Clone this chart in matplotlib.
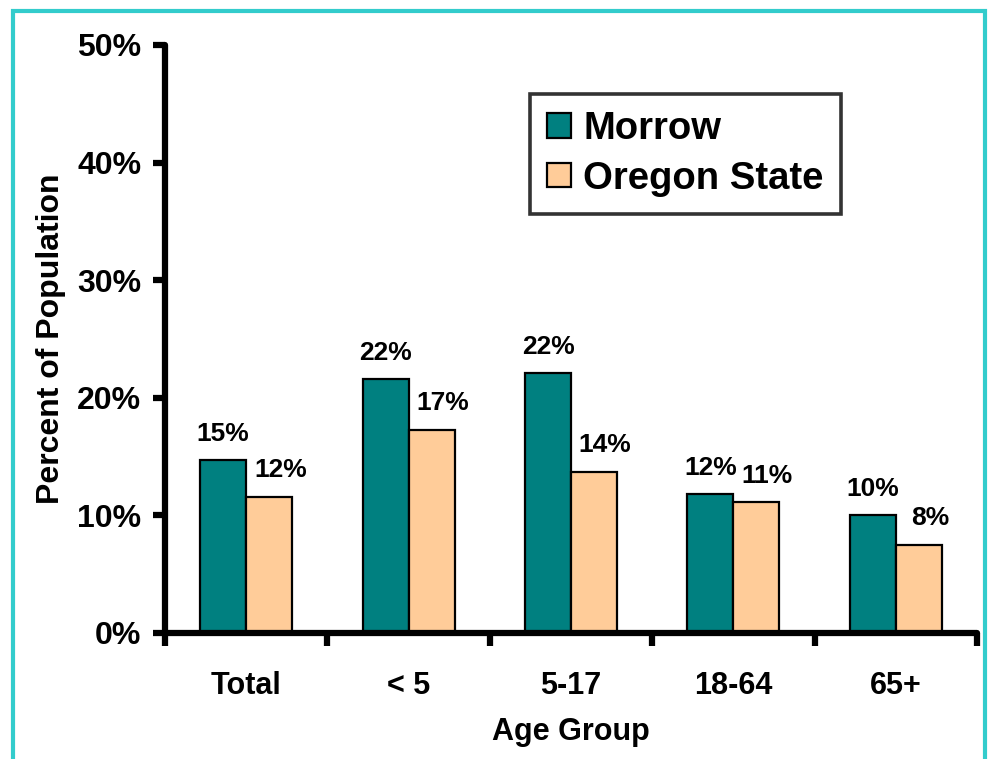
import matplotlib.pyplot as plt
from matplotlib.patches import Rectangle
import numpy as np

plt.rcParams['font.family'] = ['Liberation Sans', 'DejaVu Sans']
plt.rcParams['font.weight'] = 'bold'

categories = ["Total", "< 5", "5-17", "18-64", "65+"]
morrow = [14.7, 21.6, 22.1, 11.8, 10.0]
oregon = [11.6, 17.3, 13.7, 11.1, 7.5]
morrow_labels = ["15%", "22%", "22%", "12%", "10%"]
oregon_labels = ["12%", "17%", "14%", "11%", "8%"]

TEAL = "#008080"
PEACH = "#FFCC99"
BORDER = "#33CCCC"
AXLW = 4.5

fig = plt.figure(figsize=(9.9, 7.59), dpi=100)
ax = fig.add_axes([165 / 990, 1 - 633 / 759, (977 - 165) / 990, (633 - 45) / 759])

x = np.arange(len(categories))
w = 0.283
ax.bar(x - w / 2, morrow, w, color=TEAL, edgecolor="black", linewidth=1.6,
       label="Morrow", zorder=2)
ax.bar(x + w / 2, oregon, w, color=PEACH, edgecolor="black", linewidth=1.6,
       label="Oregon State", zorder=2)

# value labels: Morrow centred on its bar, Oregon nudged right like the original
for xi, v, lab in zip(x, morrow, morrow_labels):
    ax.annotate(lab, (xi - w / 2, v), xytext=(0, 14), textcoords="offset points",
                ha="center", va="baseline", fontsize=19, fontweight="bold")
for xi, v, lab in zip(x, oregon, oregon_labels):
    ax.annotate(lab, (xi + w / 2, v), xytext=(8, 14), textcoords="offset points",
                ha="center", va="baseline", fontsize=19, fontweight="bold")

ax.set_xlim(-0.5, len(categories) - 0.5)
ax.set_ylim(0, 50)
ax.set_yticks(np.arange(0, 51, 10))
ax.set_yticklabels([f"{t}%" for t in range(0, 51, 10)], fontsize=23, fontweight="bold")
ax.set_xticks(x)
ax.set_xticklabels(categories, fontsize=22, fontweight="bold")
ax.set_xticks(np.arange(-0.5, len(categories)), minor=True)
ax.tick_params(axis="x", which="major", length=0, pad=27)
ax.tick_params(axis="x", which="minor", length=9, width=AXLW, direction="out")
ax.tick_params(axis="y", length=9, width=AXLW, direction="out", pad=8)

for s in ["top", "right"]:
    ax.spines[s].set_visible(False)
for s in ["left", "bottom"]:
    ax.spines[s].set_linewidth(AXLW)
    ax.spines[s].set_capstyle("round")

ax.set_xlabel("Age Group", fontsize=22, fontweight="bold", labelpad=12)
ax.set_ylabel("Percent of Population", fontsize=23, fontweight="bold", labelpad=8)

leg = ax.legend(loc="upper left", bbox_to_anchor=(530 / 990, 1 - 94 / 759),
                bbox_transform=fig.transFigure, prop={"weight": "bold", "size": 27.5},
                frameon=True, fancybox=False, edgecolor="black", handlelength=0.62,
                handleheight=0.62, handletextpad=0.32, borderpad=0.45, labelspacing=0.35,
                borderaxespad=0)
leg.get_frame().set_linewidth(2.6)

fig.patches.append(Rectangle((13 / 990, -0.1), (985 - 13) / 990, 1.1 - 11 / 759,
                             transform=fig.transFigure, fill=False, edgecolor=BORDER,
                             linewidth=3, clip_on=False))

fig.savefig("out.png", dpi=100)
